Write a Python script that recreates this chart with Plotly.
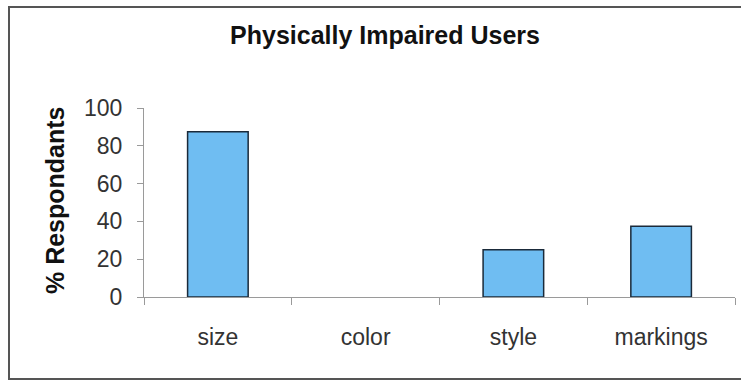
import plotly.graph_objects as go

categories = ["size", "color", "style", "markings"]
values = [87.5, 0, 25, 37.5]
y_ticks = [0, 20, 40, 60, 80, 100]

W, H = 741, 381
L, R, T, B = 144, 6, 108, 84

fig = go.Figure(go.Bar(
    x=categories, y=values,
    marker=dict(color="#6FBDF2",
                line=dict(color="#1a2a3a", width=[1.5 if v > 0 else 0 for v in values])),
    width=0.41,
))

axis_col = "#9a9a9a"
fig.update_layout(
    width=W, height=H,
    margin=dict(l=L, r=R, t=T, b=B),
    paper_bgcolor="white", plot_bgcolor="white",
    showlegend=False,
    font=dict(family="Liberation Sans, Arial, sans-serif", color="#222"),
    title=dict(text="<b>Physically Impaired Users</b>", x=385 / W, xanchor="center",
               xref="container", y=1 - 35 / H, yref="container", yanchor="middle",
               font=dict(size=25, color="#111")),
    xaxis=dict(type="category", showline=True, linecolor=axis_col, linewidth=1,
               ticks="outside", tickson="boundaries", ticklen=7, tickcolor=axis_col,
               tickfont=dict(size=23, color="#333"), ticklabelstandoff=19,
               showgrid=False, zeroline=False, range=[-0.5, 3.5]),
    yaxis=dict(range=[0, 100], tickvals=y_ticks, showline=True, linecolor=axis_col,
               linewidth=1, ticks="outside", ticklen=6, tickcolor=axis_col,
               tickfont=dict(size=23, color="#333"), ticklabelstandoff=10,
               showgrid=False, zeroline=False),
    annotations=[dict(text="<b>% Respondants</b>", textangle=-90, showarrow=False,
                      xref="paper", yref="paper",
                      x=(55 - L) / (W - L - R), y=0.513,
                      xanchor="center", yanchor="middle",
                      font=dict(size=25, color="#111"))],
    shapes=[dict(type="rect", xref="paper", yref="paper",
                 x0=(9 - L) / (W - L - R), x1=(745 - L) / (W - L - R),
                 y0=(H - B - 379) / (H - T - B), y1=(H - B - 7) / (H - T - B),
                 line=dict(color="#555", width=2), layer="below")],
)

fig.write_html("out.html")
